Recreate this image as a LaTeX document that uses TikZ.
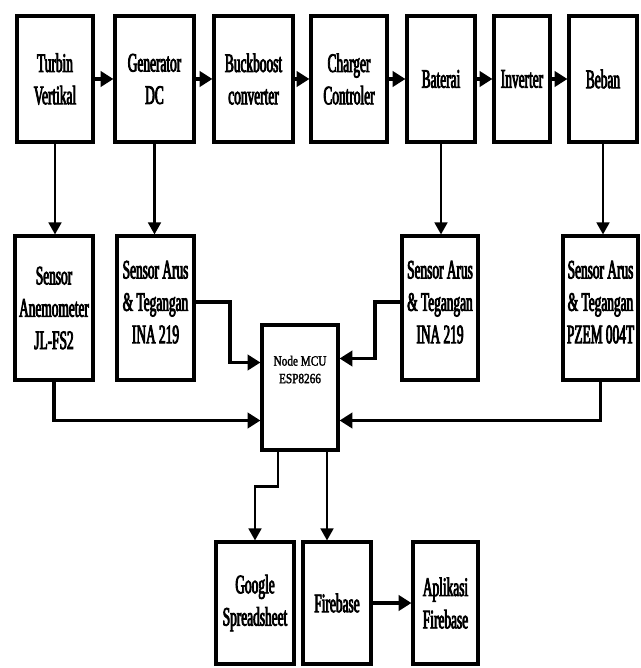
\documentclass[tikz,border=0pt]{standalone}
\usepackage{fontspec}
\newfontfamily\blockfont{Liberation Serif}[FakeStretch=0.5, FakeBold=3]
\newfontfamily\mcufont{Liberation Serif}[FakeStretch=0.8, FakeBold=2]
\usetikzlibrary{arrows.meta, positioning, calc}

\begin{document}
\begin{tikzpicture}[
    x=0.025cm, y=-0.025cm,
    block/.style={rectangle, draw=black, line width=2.2pt, fill=white, align=center, inner sep=1pt, font=\blockfont\fontsize{19}{23}\selectfont},
    toprow/.style={block, minimum height=3.15cm},
    sensor/.style={block, minimum height=3.6cm},
    cloud/.style={block, minimum height=3.05cm},
    arr/.style={-{Triangle[length=3mm, width=3.2mm]}, line width=1.6pt, black},
    flow/.style={-{Triangle[length=3.2mm, width=3.8mm]}, line width=2.8pt, black},
]
\useasboundingbox (0,0) rectangle (640,668);

\node[toprow, minimum width=1.9cm] (turbin) at (55,79) {Turbin\\Vertikal};
\node[toprow, minimum width=1.975cm] (gen) at (154.5,79) {Generator\\DC};
\node[toprow, minimum width=1.975cm] (buck) at (253.5,79) {Buckboost\\converter};
\node[toprow, minimum width=1.9cm] (charger) at (349,79) {Charger\\Controler};
\node[toprow, minimum width=1.7cm] (baterai) at (441,79) {Baterai};
\node[toprow, minimum width=1.4cm] (inverter) at (522,79) {Inverter};
\node[toprow, minimum width=1.7cm] (beban) at (603,79) {Beban};

\node[sensor, minimum width=1.95cm] (anemo) at (54,308) {Sensor\\Anemometer\\JL-FS2};
\node[sensor, minimum width=1.925cm, text depth=0.3cm] (inaleft) at (155.5,308) {Sensor Arus\\\& Tegangan\\INA 219};
\node[sensor, minimum width=1.9cm, text depth=0.3cm] (inaright) at (440,308) {Sensor Arus\\\& Tegangan\\INA 219};
\node[sensor, minimum width=1.875cm, text depth=0.3cm] (pzem) at (600.5,308) {Sensor Arus\\\& Tegangan\\PZEM 004T};

\node[block, minimum width=1.9cm, minimum height=3.125cm, text depth=0.9cm, font=\mcufont\fontsize{10}{12.5}\selectfont] (mcu) at (300,387.5) {Node MCU\\ESP8266};

\node[cloud, minimum width=1.95cm] (google) at (255,603) {Google\\Spreadsheet};
\node[cloud, minimum width=1.7cm] (firebase) at (337,603) {Firebase};
\node[cloud, minimum width=1.625cm] (aplikasi) at (445.5,603) {Aplikasi\\Firebase};

\draw[flow] (turbin) -- (gen);
\draw[flow] (gen) -- (buck);
\draw[flow] (buck) -- (charger);
\draw[flow] (charger) -- (baterai);
\draw[flow] (baterai) -- (inverter);
\draw[flow] (inverter) -- (beban);

\draw[arr] (turbin.south) -- (turbin.south |- anemo.north);
\draw[arr] (gen.south) -- (gen.south |- inaleft.north);
\draw[arr] (baterai.south) -- (baterai.south |- inaright.north);
\draw[arr] (beban.south) -- (beban.south |- pzem.north);

\draw[flow] ($(inaleft.east)+(0,-6)$) -- ++(34,0) |- ($(mcu.west)+(0,-25)$);
\draw[flow] (anemo.south) |- ($(mcu.west)+(0,33)$);
\draw[flow] ($(inaright.west)+(0,-6)$) -- ++(-25,0) |- ($(mcu.east)+(0,-29)$);
\draw[flow] (pzem.south) |- ($(mcu.east)+(0,33)$);

\coordinate (sheetout) at ($(mcu.south)+(-22,0)$);
\coordinate (fireout) at ($(mcu.south)+(27,0)$);
\draw[arr] (sheetout) -- ++(0,35) -| (google.north);
\draw[arr] (fireout) -- (fireout |- firebase.north);
\draw[flow] (firebase) -- (aplikasi);

\end{tikzpicture}
\end{document}
